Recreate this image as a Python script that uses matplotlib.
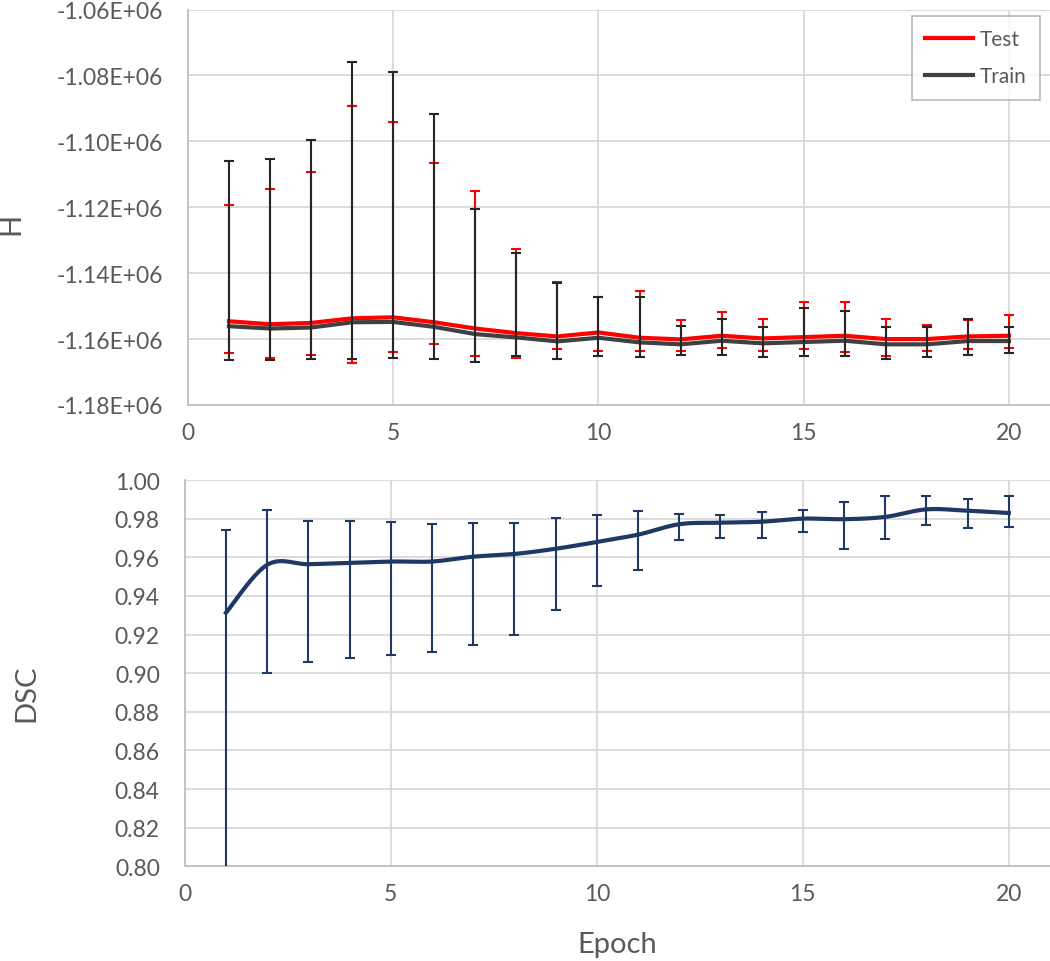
import numpy as np
import matplotlib
matplotlib.use('Agg')
import matplotlib.pyplot as plt
from matplotlib.ticker import FuncFormatter, MultipleLocator

plt.rcParams['font.family'] = ['Lato', 'DejaVu Sans']

epochs = list(range(1, 21))

# H (top panel): line values and error bar ends
test_h = [-1154600, -1155500, -1155100, -1153700, -1153400, -1154900, -1156800,
          -1158200, -1159200, -1158000, -1159600, -1160100, -1159000, -1159800,
          -1159400, -1159000, -1160000, -1160000, -1159200, -1159000]
test_hi = [-1119200, -1114600, -1109400, -1089300, -1094200, -1106700, -1115200,
           -1132600, -1142800, -1147200, -1145400, -1154300, -1151900, -1153800,
           -1148700, -1148900, -1153800, -1155800, -1154200, -1152700]
test_lo = [-1164300, -1165800, -1164700, -1167400, -1164000, -1161500, -1165200,
           -1165800, -1163000, -1163500, -1163600, -1163500, -1162600, -1163700,
           -1163100, -1164000, -1165100, -1163700, -1162900, -1162800]

train_h = [-1156100, -1156800, -1156500, -1154900, -1154800, -1156300, -1158500,
           -1159500, -1160700, -1159600, -1161000, -1161600, -1160500, -1161300,
           -1160900, -1160500, -1161600, -1161600, -1160600, -1160600]
train_hi = [-1106000, -1105500, -1099500, -1075900, -1078800, -1091700, -1120600,
            -1134000, -1143000, -1147200, -1147200, -1156000, -1153800, -1156400,
            -1150500, -1151400, -1156400, -1156200, -1154000, -1156200]
train_lo = [-1166400, -1166300, -1166000, -1166200, -1165600, -1166200, -1166900,
            -1165100, -1166000, -1165100, -1165300, -1164700, -1164800, -1165500,
            -1165100, -1165200, -1166000, -1165300, -1164800, -1164200]

# DSC (bottom panel)
dsc = [0.9313, 0.9561, 0.9564, 0.9571, 0.9578, 0.9578, 0.9603, 0.9617, 0.9644, 0.9679,
       0.9717, 0.9771, 0.9779, 0.9784, 0.9800, 0.9797, 0.9809, 0.9848, 0.9841, 0.9829]
dsc_hi = [0.9740, 0.9846, 0.9790, 0.9790, 0.9781, 0.9774, 0.9778, 0.9776, 0.9802, 0.9817,
          0.9838, 0.9826, 0.9821, 0.9834, 0.9843, 0.9884, 0.9919, 0.9917, 0.9902, 0.9916]
dsc_lo = [0.7800, 0.9002, 0.9058, 0.9079, 0.9094, 0.9108, 0.9144, 0.9200, 0.9328, 0.9451,
          0.9536, 0.9688, 0.9702, 0.9700, 0.9733, 0.9645, 0.9695, 0.9767, 0.9753, 0.9759]

TEXT = '#595959'
GRID = '#d9d9d9'


def smooth_line(x, y, n=30):
    # excel-style smoothed line: catmull-rom as cubic bezier segments
    x = np.asarray(x, float)
    y = np.asarray(y, float)
    px = np.concatenate([[x[0]], x, [x[-1]]])
    py = np.concatenate([[y[0]], y, [y[-1]]])
    t = np.linspace(0, 1, n)[:, None]
    xs, ys = [], []
    for i in range(1, len(px) - 2):
        p0 = np.array([px[i], py[i]])
        p3 = np.array([px[i + 1], py[i + 1]])
        c1 = p0 + (p3 - np.array([px[i - 1], py[i - 1]])) / 6
        c2 = p3 - (np.array([px[i + 2], py[i + 2]]) - p0) / 6
        pts = ((1 - t) ** 3) * p0 + 3 * ((1 - t) ** 2) * t * c1 + 3 * (1 - t) * t ** 2 * c2 + t ** 3 * p3
        xs.append(pts[:, 0])
        ys.append(pts[:, 1])
    return np.concatenate(xs), np.concatenate(ys)


def style_axes(ax):
    ax.grid(True, color=GRID, linewidth=1.3)
    ax.set_axisbelow(True)
    for s in ['top', 'right']:
        ax.spines[s].set_visible(False)
    for s in ['left', 'bottom']:
        ax.spines[s].set_color('#bfbfbf')
        ax.spines[s].set_linewidth(1.3)
    ax.tick_params(length=0, labelsize=16.5, colors=TEXT)
    ax.tick_params(axis='y', pad=18)
    ax.tick_params(axis='x', pad=12)
    ax.set_xlim(0, 21)
    ax.xaxis.set_major_locator(MultipleLocator(5))


fig = plt.figure(figsize=(10.5, 9.62), dpi=100)
ax1 = fig.add_axes([0.179, 0.578, 0.821, 0.411])
ax2 = fig.add_axes([0.176, 0.0984, 0.824, 0.4016])

# top panel
t_h = np.array(test_h)
tr_h = np.array(train_h)
ax1.errorbar(epochs, test_h, yerr=[t_h - np.array(test_lo), np.array(test_hi) - t_h],
             fmt='none', ecolor='#ff0000', elinewidth=1.5, capsize=3.3, capthick=1.5, zorder=3)
ax1.plot(epochs, test_h, color='#ff0000', linewidth=3, label='Test', zorder=4)
ax1.errorbar(epochs, train_h, yerr=[tr_h - np.array(train_lo), np.array(train_hi) - tr_h],
             fmt='none', ecolor='#262626', elinewidth=1.5, capsize=3.3, capthick=1.5, zorder=5)
ax1.plot(epochs, train_h, color='#404040', linewidth=3, label='Train', zorder=4)

style_axes(ax1)
ax1.set_ylim(-1.18e6, -1.06e6)
ax1.yaxis.set_major_locator(MultipleLocator(20000))
ax1.yaxis.set_major_formatter(FuncFormatter(lambda v, p: f'{v:.2E}'))
ax1.set_ylabel('H', fontsize=21, color=TEXT)
ax1.yaxis.set_label_coords(-0.19, 0.46)

leg = ax1.legend(loc='upper right', bbox_to_anchor=(0.988, 0.984), fontsize=15,
                 frameon=True, fancybox=False, handlelength=2.3, handletextpad=0.3,
                 borderpad=0.65, labelspacing=0.8, borderaxespad=0)
leg.get_frame().set_edgecolor('#a6a6a6')
leg.get_frame().set_linewidth(1.2)
for txt in leg.get_texts():
    txt.set_color(TEXT)

# bottom panel
d = np.array(dsc)
ax2.errorbar(epochs, dsc, yerr=[d - np.array(dsc_lo), np.array(dsc_hi) - d],
             fmt='none', ecolor='#1f3864', elinewidth=1.5, capsize=3.6, capthick=1.5, zorder=3)
sx, sy = smooth_line(epochs, dsc)
ax2.plot(sx, sy, color='#1f3864', linewidth=3, zorder=4)

style_axes(ax2)
ax2.set_ylim(0.80, 1.00)
ax2.yaxis.set_major_locator(MultipleLocator(0.02))
ax2.yaxis.set_major_formatter(FuncFormatter(lambda v, p: f'{v:.2f}'))
ax2.set_ylabel('DSC', fontsize=21, color=TEXT)
ax2.yaxis.set_label_coords(-0.168, 0.45)
ax2.set_xlabel('Epoch', fontsize=21, color=TEXT)
ax2.xaxis.set_label_coords(0.5, -0.168)

fig.savefig('out.png', dpi=100)
